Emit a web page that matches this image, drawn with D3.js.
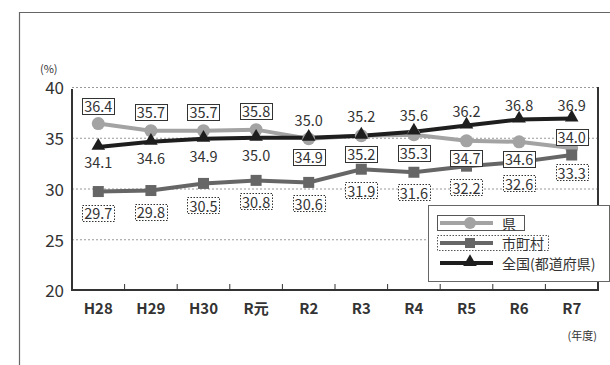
<!DOCTYPE html>
<html><head><meta charset="utf-8">
<script src="https://cdn.jsdelivr.net/npm/d3@7"></script>
<style>
body{margin:0;background:#fff;}
svg{display:block;font-family:"Noto Sans CJK JP","Noto Sans",sans-serif;}
</style></head>
<body><svg id="c" width="610" height="365"></svg>
<script>
const categories = ["H28","H29","H30","R元","R2","R3","R4","R5","R6","R7"];
const kenValues = [36.4,35.7,35.7,35.8,34.9,35.2,35.3,34.7,34.6,34.0];
const shichosonValues = [29.7,29.8,30.5,30.8,30.6,31.9,31.6,32.2,32.6,33.3];
const zenkokuValues = [34.1,34.6,34.9,35.0,35.0,35.2,35.6,36.2,36.8,36.9];
const yTicks = [20,25,30,35,40];
const seriesNames = ["県","市町村","全国(都道府県)"];
// label placement (pixel offsets, not data)
const kenLabelDy = [-18,-19,-19,-19,18,18,18,17,17,-11];
const shiLabelDy = [21,21,22,21,21,21,20,21,21,17];
const zenLabelDy = [15,16,17,17,-18,-20,-17,-15,-15,-14];

const svg = d3.select("#c");
const L=72, R=598, T=87, B=290;
const x = d3.scaleBand().domain(categories).range([L,R]).padding(0);
const y = d3.scaleLinear().domain([20,40]).range([B,T]);
const cx = d => x(d)+x.bandwidth()/2;

// outer frame
svg.append("path").attr("d","M19.5,365 V12.5 H610").attr("fill","none").attr("stroke","#666").attr("stroke-width",1.2);

// gridlines
svg.append("g").selectAll("line").data(yTicks.filter(v=>v>20)).join("line")
  .attr("x1",L).attr("x2",R).attr("y1",d=>y(d)+0.5).attr("y2",d=>y(d)+0.5)
  .attr("stroke","#999").attr("stroke-width",1).attr("stroke-dasharray","2,2");

// y axis
const ya = svg.append("g").attr("transform",`translate(${L},0)`)
  .call(d3.axisLeft(y).tickValues(yTicks).tickSize(0).tickPadding(8).tickFormat(d3.format("d")));
ya.select(".domain").remove();
ya.selectAll("text").attr("font-size",17).attr("fill","#333").attr("font-family","'Noto Sans CJK JP'").attr("dy","0.4em");
svg.append("line").attr("x1",L).attr("x2",L).attr("y1",T+2).attr("y2",B).attr("stroke","#333").attr("stroke-width",2);
svg.append("line").attr("x1",R).attr("x2",R).attr("y1",T).attr("y2",B).attr("stroke","#333").attr("stroke-width",2);

// x axis
const xa = svg.append("g").attr("transform",`translate(0,${B})`)
  .call(d3.axisBottom(x).tickSize(0).tickPadding(13));
xa.select(".domain").remove();
xa.selectAll("text").attr("font-size",15).attr("font-weight","bold").attr("fill","#333").attr("font-family","'Noto Sans CJK JP'");
svg.append("line").attr("x1",L-1).attr("x2",R+1).attr("y1",B).attr("y2",B).attr("stroke","#333").attr("stroke-width",2);
svg.append("g").selectAll("line").data(categories.slice(1)).join("line")
  .attr("x1",d=>x(d)).attr("x2",d=>x(d)).attr("y1",B).attr("y2",B-6)
  .attr("stroke","#333").attr("stroke-width",1);

// unit labels
svg.append("text").attr("x",40).attr("y",73).attr("font-size",11).attr("fill","#333").text("(%)");
svg.append("text").attr("x",597).attr("y",340).attr("text-anchor","end").attr("font-size",11).attr("fill","#333").text("(年度)");

const line = d3.line().x((d,i)=>cx(categories[i])).y(d=>y(d));
const colKen="#a3a3a3", colShi="#666666", colZen="#1e1e1e";

function drawLine(vals,col){
  svg.append("path").datum(vals).attr("d",line).attr("fill","none").attr("stroke",col).attr("stroke-width",4);
}
drawLine(kenValues,colKen);
drawLine(shichosonValues,colShi);
drawLine(zenkokuValues,colZen);

// markers
svg.append("g").selectAll("circle").data(kenValues).join("circle")
  .attr("cx",(d,i)=>cx(categories[i])).attr("cy",d=>y(d)).attr("r",6.5).attr("fill",colKen);
svg.append("g").selectAll("rect").data(shichosonValues).join("rect")
  .attr("x",(d,i)=>cx(categories[i])-5.5).attr("y",d=>y(d)-5.5).attr("width",11).attr("height",11).attr("fill",colShi);
const tri = d3.symbol().type(d3.symbolTriangle).size(80);
svg.append("g").selectAll("path").data(zenkokuValues).join("path")
  .attr("transform",(d,i)=>`translate(${cx(categories[i])},${y(d)-1})`).attr("d",tri).attr("fill",colZen);

// labels
function labels(vals,dys,border){
  const g = svg.append("g");
  vals.forEach((v,i)=>{
    const px = cx(categories[i]), py = y(v)+dys[i];
    const t = g.append("text").attr("x",px).attr("y",py).attr("text-anchor","middle")
      .attr("dominant-baseline","central").attr("font-size",14.5).attr("fill","#333").text(d3.format(".1f")(v));
    if(border){
      const bb = t.node().getBBox();
      g.insert("rect","text").attr("x",Math.round(bb.x-2)+0.5).attr("y",Math.round(py-8)+0.5)
        .attr("width",Math.round(bb.width+4)).attr("height",16).attr("fill","#fff")
        .attr("stroke","#333").attr("stroke-width",1).attr("stroke-dasharray",border==="dot"?"1.5,1.5":null);
    }
  });
}
labels(zenkokuValues,zenLabelDy,null);
labels(kenValues,kenLabelDy,"solid");
labels(shichosonValues,shiLabelDy,"dot");

// legend
const lg = svg.append("g");
lg.append("rect").attr("x",428.5).attr("y",205.5).attr("width",181).attr("height",76).attr("fill","#fff").attr("stroke","#666").attr("stroke-width",1);
const entries = [
  {name:seriesNames[0],col:colKen,sym:"circle",box:"solid",y:223,bw:87},
  {name:seriesNames[1],col:colShi,sym:"square",box:"dot",y:243,bw:111},
  {name:seriesNames[2],col:colZen,sym:"tri",box:null,y:263,bw:0}
];
entries.forEach(e=>{
  if(e.box){
    lg.append("rect").attr("x",437.5).attr("y",e.y-7.5).attr("width",e.bw).attr("height",15)
      .attr("fill","#fff").attr("stroke","#555").attr("stroke-width",1).attr("stroke-dasharray",e.box==="dot"?"1.5,1.5":null);
  }
  lg.append("line").attr("x1",440).attr("x2",493).attr("y1",e.y).attr("y2",e.y).attr("stroke",e.col).attr("stroke-width",4);
  if(e.sym==="circle") lg.append("circle").attr("cx",470).attr("cy",e.y).attr("r",6).attr("fill",e.col);
  if(e.sym==="square") lg.append("rect").attr("x",465).attr("y",e.y-5).attr("width",10).attr("height",10).attr("fill",e.col);
  if(e.sym==="tri") lg.append("path").attr("transform",`translate(470,${e.y-1})`).attr("d",tri).attr("fill",e.col);
  lg.append("text").attr("x",502).attr("y",e.y).attr("dominant-baseline","central").attr("font-size",14).attr("fill","#333").text(e.name);
});
</script></body></html>
